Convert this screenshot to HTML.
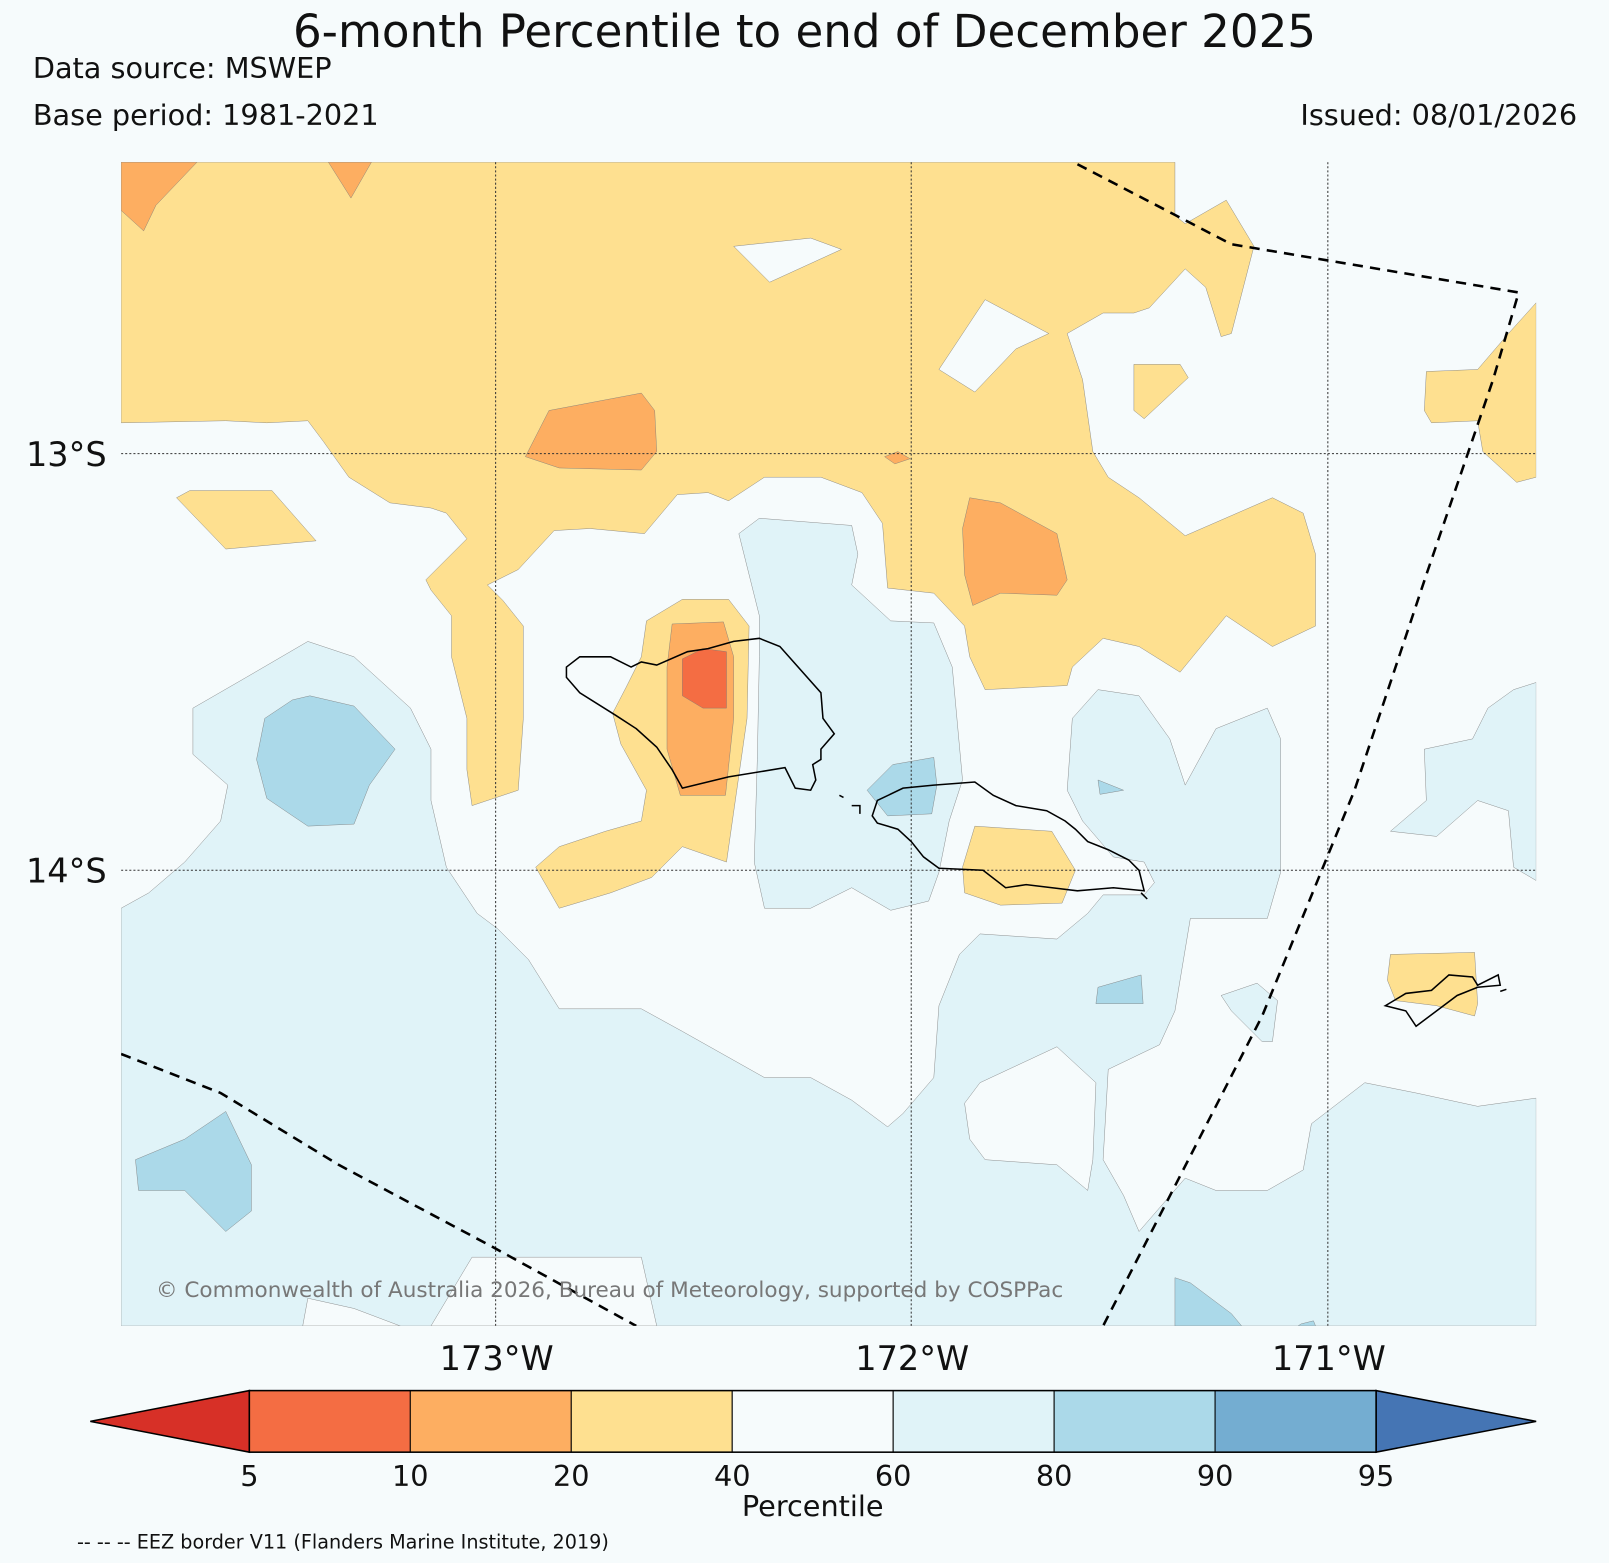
<!DOCTYPE html>
<html><head><meta charset="utf-8"><style>
html,body{margin:0;padding:0;background:#f6fbfc;}
svg{display:block;font-family:"DejaVu Sans","Liberation Sans",sans-serif;}
</style></head><body>
<svg id="fig" width="1609" height="1563" viewBox="0 0 1568 1523" preserveAspectRatio="none" xmlns="http://www.w3.org/2000/svg">
<rect width="1568" height="1523" fill="#f6fbfc"/>
<text x="784" y="46" font-size="44" text-anchor="middle" fill="#111">6-month Percentile to end of December 2025</text>
<text x="32" y="76" font-size="28" fill="#111">Data source: MSWEP</text>
<text x="32" y="122" font-size="28" fill="#111">Base period: 1981-2021</text>
<text x="1537" y="122" font-size="28" text-anchor="end" fill="#111">Issued: 08/01/2026</text>
<defs><clipPath id="mapclip"><rect x="118" y="158" width="1379" height="1134"/></clipPath></defs>
<g clip-path="url(#mapclip)" stroke="#777" stroke-width="0.4">
<rect x="118" y="158" width="1379" height="1134" fill="#f6fbfc" stroke="none"/>
<polygon fill="#e0f3f8" points="118,885 145,870 180,840 215,800 222,765 188,735 188,690 240,660 300,625 345,640 400,690 420,730 420,780 435,845 465,890 485,905 515,935 545,983 625,983 665,1005 745,1050 790,1050 830,1072 865,1098 880,1085 910,1050 915,980 935,930 955,910 1030,915 1060,890 1075,872 1115,872 1125,860 1115,840 1085,835 1055,800 1040,770 1045,700 1070,672 1110,678 1140,720 1155,765 1185,710 1235,690 1248,720 1248,850 1235,895 1160,895 1145,985 1130,1018 1080,1042 1075,1130 1095,1165 1110,1200 1155,1148 1185,1160 1235,1160 1270,1140 1278,1095 1330,1055 1380,1065 1440,1078 1497,1070 1497,1292 118,1292"/>
<polygon fill="#f6fbfc" points="955,1055 1030,1020 1068,1055 1065,1130 1060,1160 1030,1135 960,1130 945,1110 940,1075"/>
<polygon fill="#f6fbfc" points="300,1265 345,1275 390,1292 295,1292"/>
<polygon fill="#f6fbfc" points="460,1225 625,1225 640,1292 420,1292"/>
<polygon fill="#e0f3f8" points="720,520 740,505 830,512 836,540 830,570 868,605 910,607 928,650 938,760 925,800 915,850 905,878 868,887 830,865 790,885 745,885 735,840 738,740 740,640 740,600"/>
<polygon fill="#e0f3f8" points="1355,810 1390,780 1388,730 1435,720 1450,690 1475,672 1497,665 1497,858 1475,845 1470,790 1440,780 1400,815"/>
<polygon fill="#e0f3f8" points="1190,970 1225,958 1245,975 1240,1015 1230,1015 1200,985"/>
<polygon fill="#fee090" points="118,158 1145,158 1145,210 1155,218 1195,195 1222,240 1200,325 1190,328 1175,280 1155,262 1120,300 1105,305 1075,305 1040,325 1055,370 1065,440 1080,465 1110,485 1155,522 1240,485 1270,500 1282,540 1282,610 1240,630 1195,600 1150,655 1110,630 1075,622 1045,650 1040,668 960,672 945,640 940,610 910,578 865,573 860,510 840,480 800,465 745,465 710,488 690,480 660,482 628,520 575,515 540,517 505,555 475,570 490,585 510,610 510,700 505,770 460,785 455,750 455,700 440,640 440,600 420,575 415,565 455,525 435,500 420,495 380,490 340,465 315,430 300,410 260,412 220,410 118,412"/>
<polygon fill="#f6fbfc" points="715,240 790,232 820,243 750,275"/>
<polygon fill="#f6fbfc" points="915,360 960,292 1022,325 990,340 950,382"/>
<polygon fill="#fee090" points="1105,355 1150,355 1158,368 1115,408 1105,400"/>
<polygon fill="#fee090" points="1390,362 1440,360 1470,325 1497,295 1497,465 1478,470 1445,440 1440,410 1395,412 1388,400"/>
<polygon fill="#fee090" points="172,485 185,478 265,478 308,527 220,535"/>
<polygon fill="#fdae61" points="118,158 192,158 152,200 140,225 118,205"/>
<polygon fill="#fdae61" points="320,158 362,158 342,193"/>
<polygon fill="#fdae61" points="535,400 625,383 638,400 640,440 625,458 545,456 512,445"/>
<polygon fill="#fdae61" points="862,445 875,440 887,447 872,452"/>
<polygon fill="#fdae61" points="945,485 975,490 1030,520 1040,565 1030,580 975,578 948,590 940,560 938,515"/>
<polygon fill="#fee090" points="630,605 665,584 710,584 730,610 728,700 718,770 708,840 665,825 635,855 595,870 545,885 522,845 545,825 590,810 625,800 630,770 605,725 597,695 610,670 625,640"/>
<polygon fill="#fdae61" points="655,608 705,606 715,640 715,700 707,775 663,775 650,730 650,650"/>
<polygon fill="#f46d43" points="665,642 685,632 708,635 708,690 685,690 665,678"/>
<polygon fill="#fee090" points="950,805 1025,810 1048,848 1035,880 975,882 940,870 938,845"/>
<polygon fill="#fee090" points="1355,930 1437,928 1440,978 1437,990 1400,980 1360,975 1352,955"/>
<polygon fill="#abd9e9" points="258,700 285,682 302,678 345,688 385,730 360,765 345,803 300,805 260,778 250,740"/>
<polygon fill="#abd9e9" points="845,770 870,745 910,738 913,765 908,793 865,795"/>
<polygon fill="#abd9e9" points="1070,760 1095,770 1072,774"/>
<polygon fill="#abd9e9" points="1070,962 1112,950 1114,978 1068,978"/>
<polygon fill="#abd9e9" points="132,1130 180,1110 220,1083 245,1135 245,1180 220,1200 180,1160 135,1160"/>
<polygon fill="#abd9e9" points="1145,1245 1160,1250 1200,1280 1210,1292 1145,1292"/>
<polygon fill="#abd9e9" points="1265,1292 1268,1290 1280,1287 1282,1292"/>
<g stroke="#333" stroke-width="1" stroke-dasharray="2,2">
<line x1="483" y1="158" x2="483" y2="1292"/><line x1="888" y1="158" x2="888" y2="1292"/><line x1="1294" y1="158" x2="1294" y2="1292"/>
<line x1="118" y1="442" x2="1497" y2="442"/><line x1="118" y1="848" x2="1497" y2="848"/>
</g>
<g fill="none" stroke="#000" stroke-width="1.5">
<polygon points="552,650 565,640 595,640 615,650 625,645 640,648 670,635 690,632 715,625 740,622 760,630 800,675 802,700 813,715 800,730 800,740 792,745 795,760 790,770 775,768 765,748 710,757 665,768 655,750 640,728 620,710 600,697 565,675 552,660"/>
<polygon points="850,795 855,780 880,768 910,765 950,762 968,775 990,785 1020,790 1038,800 1048,808 1060,820 1080,828 1100,838 1110,848 1115,868 1085,865 1050,868 1000,862 980,865 958,848 915,846 900,835 888,820 875,808 855,802"/>
<polyline points="1112,870 1118,876"/><polyline points="830,785 838,785 838,793"/><polyline points="818,775 822,777"/>
<polygon points="1350,980 1370,968 1395,965 1412,950 1435,952 1440,960 1460,950 1462,960 1440,962 1420,970 1400,985 1380,1000 1370,985"/>
<polyline points="1462,966 1468,964"/>
</g>
<g fill="none" stroke="#000" stroke-width="2.5" stroke-dasharray="10,7">
<polyline points="1050,160 1200,238 1480,285 1455,370 1390,560 1320,770 1230,990 1075,1292"/>
<polyline points="118,1027 215,1065 330,1135 480,1215 620,1292"/>
</g>
<text x="152" y="1264" font-size="21" fill="#777" stroke="none">© Commonwealth of Australia 2026, Bureau of Meteorology, supported by COSPPac</text>
</g>
<g font-size="32.7" fill="#111">
<text x="104" y="454" text-anchor="end">13°S</text>
<text x="104" y="860" text-anchor="end">14°S</text>
<text x="484" y="1335" text-anchor="middle">173°W</text>
<text x="889" y="1335" text-anchor="middle">172°W</text>
<text x="1295" y="1335" text-anchor="middle">171°W</text>
</g>
<g id="colorbar"></g>
<text x="792" y="1477" font-size="28" text-anchor="middle" fill="#111">Percentile</text>
<text x="75" y="1509" font-size="18.7" fill="#111">-- -- -- EEZ border V11 (Flanders Marine Institute, 2019)</text>
</svg>
<script>
const levels = [5, 10, 20, 40, 60, 80, 90, 95];
const binColors = ["#f46d43", "#fdae61", "#fee090", "#f6fbfc", "#e0f3f8", "#abd9e9", "#74add1"];
const extendColors = ["#d73027", "#4575b4"];
const NS = "http://www.w3.org/2000/svg";
const cb = document.getElementById("colorbar");
const x0 = 243, x1 = 1341, y0 = 1355, y1 = 1415, nb = levels.length - 1;
const xs = i => x0 + (x1 - x0) * i / nb;
function mk(tag, attrs) { const e = document.createElementNS(NS, tag); for (const k in attrs) e.setAttribute(k, attrs[k]); cb.appendChild(e); return e; }
let t = mk("polygon", {points: `${x0},${y0} ${x0},${y1} 88,${(y0+y1)/2}`, fill: extendColors[0], stroke: "#000", "stroke-width": 1.5});


t = mk("polygon", {points: `${x1},${y0} ${x1},${y1} 1497,${(y0+y1)/2}`, fill: extendColors[1], stroke: "#000", "stroke-width": 1.5});


for (let i = 0; i < nb; i++) {
  const r = mk("rect", {x: xs(i), y: y0, width: xs(i+1) - xs(i), height: y1 - y0, fill: binColors[i], stroke: "#000", "stroke-width": 1});
  
  
}
for (let i = 0; i < levels.length; i++) {
  const tx = mk("text", {x: xs(i), y: 1448, "font-size": 28, "text-anchor": "middle", fill: "#111"});
  tx.textContent = levels[i];
  
  
}
mk("rect", {x: x0, y: y0, width: x1 - x0, height: y1 - y0, fill: "none", stroke: "#000", "stroke-width": 1.5});
</script>
</body></html>
